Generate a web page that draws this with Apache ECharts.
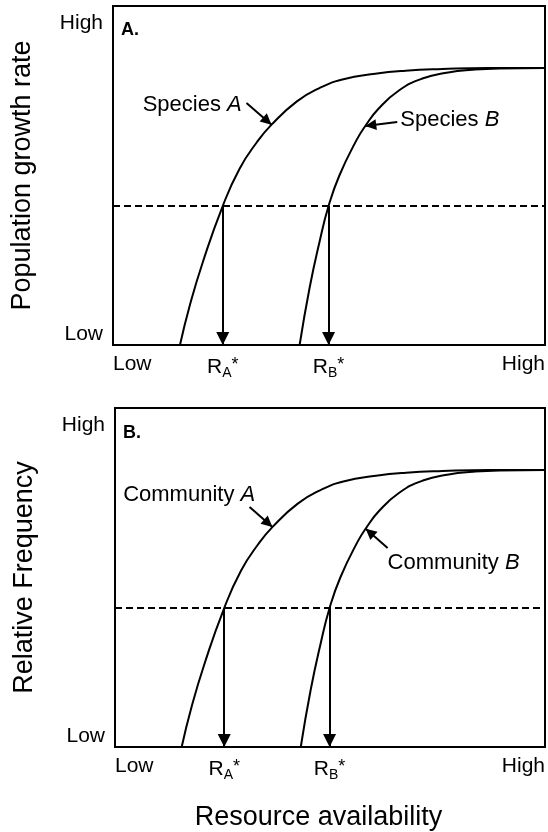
<!DOCTYPE html>
<html><head><meta charset="utf-8">
<script src="https://cdn.jsdelivr.net/npm/echarts@6/dist/echarts.min.js"></script>
<style>html,body{margin:0;padding:0;background:#fff}#c{width:548px;height:832px}</style>
</head><body><div id="c"></div>
<script>
// ---- data ----
const resourceA = [15.5, 17.8, 20.8, 25.4, 29.3, 33.3, 36.7, 42.5, 47.8, 53.1, 60.7, 67.7, 76.2, 86.8, 100];
const growthA   = [0, 11.8, 24.5, 41.0, 52.0, 59.8, 65.0, 71.8, 75.8, 78.3, 80.0, 80.9, 81.4, 81.7, 81.7];
const resourceB = [43.2, 45.5, 47.8, 49.9, 52.4, 56.4, 58.4, 61.4, 66.1, 71.6, 77.6, 83.1, 89.4, 100];
const growthB   = [0, 16.8, 30.4, 41.0, 50.0, 60.5, 64.6, 69.6, 75.0, 78.6, 80.4, 81.2, 81.6, 81.7];
const thresholdLevel = 41.0;
const rStarA = 25.4;
const rStarB = 49.9;
const axisMin = 0;
const axisMax = 100;
const xTickLabels = ['Low', 'High'];
const yTickLabels = ['Low', 'High'];
const panelLabels = ['A.', 'B.'];
const yAxisNames = ['Population growth rate', 'Relative Frequency'];
const xAxisName = 'Resource availability';
const curveLabelsA = ['Species', 'Community'];
const curveLabelsB = ['Species', 'Community'];

// ---- layout (positions in axis units / pixels) ----
const FONT = 'Liberation Sans';
const panels = [
  { grid: { left: 113, top: 6, width: 433, height: 339 },
    titleLeft: 121, titleTop: 21,
    labelA: { at: [29.8, 70.8], align: 'right' }, arrowA: [[30.9, 71.4], [36.7, 65.0]],
    labelB: { at: [66.5, 66.4], align: 'left' },  arrowB: [[65.8, 65.8], [58.4, 64.6]] },
  { grid: { left: 115, top: 408, width: 432, height: 339 },
    titleLeft: 123, titleTop: 424,
    labelA: { at: [1.9, 74.3], align: 'left' },   arrowA: [[31.3, 70.8], [36.6, 64.9]],
    labelB: { at: [63.4, 54.3], align: 'left' },  arrowB: [[63.4, 58.7], [58.3, 64.4]] }
];

const zip = (xs, ys) => xs.map((x, i) => [x, ys[i]]);
const rich = {
  r: { fontSize: 21, fontFamily: FONT, color: '#000' },
  s: { fontSize: 14, fontFamily: FONT, color: '#000', padding: [12, 0, 0, 0] },
  st: { fontSize: 18, fontFamily: FONT, color: '#000', padding: [0, 0, 4, 0] },
  n: { fontSize: 22, fontFamily: FONT, color: '#000' },
  i: { fontSize: 22, fontFamily: FONT, color: '#000', fontStyle: 'italic' },
  hi: { fontSize: 21, fontFamily: FONT, color: '#000', padding: [7, 0, 0, 0] }
};

function arrowLine(seg) {
  return [
    { coord: seg[0], symbol: 'none' },
    { coord: seg[1], symbol: 'triangle', symbolSize: 11, symbolOffset: [0, '50%'] }
  ];
}

const option = {
  animation: false,
  color: ['#000'],
  title: panels.map((p, i) => ({
    text: panelLabels[i], left: p.titleLeft, top: p.titleTop, padding: 0,
    textStyle: { fontSize: 18, fontWeight: 'bold', fontFamily: FONT, color: '#000' }
  })),
  grid: panels.map(p => Object.assign({ show: true, borderColor: '#000', borderWidth: 2, backgroundColor: 'transparent' }, p.grid)),
  xAxis: panels.map((p, i) => ({
    type: 'value', gridIndex: i, min: axisMin, max: axisMax,
    axisLine: { show: false }, axisTick: { show: false }, splitLine: { show: false },
    axisLabel: {
      customValues: [axisMin, rStarA, rStarB, axisMax],
      margin: 9, fontSize: 21, fontFamily: FONT, color: '#000',
      alignMinLabel: 'left', alignMaxLabel: 'right',
      rich: rich,
      formatter: v => v === axisMin ? '{r|' + xTickLabels[0] + '}'
        : v === axisMax ? '{r|' + xTickLabels[1] + '}'
        : v === rStarA ? '{r|R}{s|A}{st|*}'
        : '{r|R}{s|B}{st|*}'
    },
    name: i === 1 ? xAxisName : '', nameLocation: 'middle', nameGap: 57,
    nameTextStyle: { fontSize: 27, fontFamily: FONT, color: '#000', padding: [0, 23, 0, 0] }
  })),
  yAxis: panels.map((p, i) => ({
    type: 'value', gridIndex: i, min: axisMin, max: axisMax, interval: axisMax - axisMin,
    axisLine: { show: false }, axisTick: { show: false }, splitLine: { show: false },
    axisLabel: {
      margin: 10, fontSize: 21, fontFamily: FONT, color: '#000',
      verticalAlignMinLabel: 'bottom', verticalAlignMaxLabel: 'top',
      rich: rich,
      formatter: v => v === axisMin ? yTickLabels[0] : '{hi|' + yTickLabels[1] + '}'
    },
    name: yAxisNames[i], nameLocation: 'middle', nameGap: 77,
    nameTextStyle: { fontSize: 27, fontFamily: FONT, color: '#000' }
  })),
  series: []
};

panels.forEach((p, i) => {
  const ml = {
    silent: true, animation: false,
    symbol: ['none', 'none'],
    label: { show: false },
    emphasis: { disabled: true },
    lineStyle: { color: '#000', width: 2, type: 'solid' },
    itemStyle: { color: '#000' }
  };
  option.series.push({
    type: 'line', xAxisIndex: i, yAxisIndex: i, data: zip(resourceA, growthA),
    smooth: 0.5, showSymbol: false, silent: true,
    lineStyle: { color: '#000', width: 2 },
    markLine: Object.assign({}, ml, {
      data: [
        { yAxis: thresholdLevel, lineStyle: { type: [7, 4], width: 2, color: '#000' } },
        [{ coord: [rStarA, thresholdLevel], symbol: 'none' },
         { coord: [rStarA, axisMin], symbol: 'triangle', symbolSize: 13, symbolOffset: [0, '50%'] }],
        arrowLine(p.arrowA)
      ]
    })
  });
  option.series.push({
    type: 'line', xAxisIndex: i, yAxisIndex: i, data: zip(resourceB, growthB),
    smooth: 0.5, showSymbol: false, silent: true,
    lineStyle: { color: '#000', width: 2 },
    markLine: Object.assign({}, ml, {
      data: [
        [{ coord: [rStarB, thresholdLevel], symbol: 'none' },
         { coord: [rStarB, axisMin], symbol: 'triangle', symbolSize: 13, symbolOffset: [0, '50%'] }],
        arrowLine(p.arrowB)
      ]
    })
  });
  option.series.push({
    type: 'scatter', xAxisIndex: i, yAxisIndex: i, symbolSize: 0, silent: true,
    itemStyle: { opacity: 1 },
    data: [
      { value: p.labelA.at, label: { show: true, position: 'inside', align: p.labelA.align, verticalAlign: 'middle',
          opacity: 1, formatter: '{n|' + curveLabelsA[i] + ' }{i|A}', rich: rich } },
      { value: p.labelB.at, label: { show: true, position: 'inside', align: p.labelB.align, verticalAlign: 'middle',
          opacity: 1, formatter: '{n|' + curveLabelsB[i] + ' }{i|B}', rich: rich } }
    ]
  });
});

const chart = echarts.init(document.getElementById('c'), null, { renderer: 'canvas' });
chart.setOption(option);
</script>
</body></html>
